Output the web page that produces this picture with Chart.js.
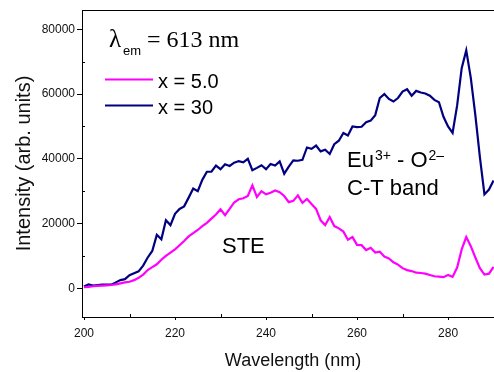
<!DOCTYPE html>
<html>
<head>
<meta charset="utf-8">
<script src="https://cdn.jsdelivr.net/npm/chart.js@4/dist/chart.umd.min.js"></script>
<style>
  html, body { margin: 0; padding: 0; background: #fff; }
  #wrap { width: 494px; height: 372px; }
</style>
</head>
<body>
<div id="wrap"><canvas id="chart" width="494" height="372"></canvas></div>
<script>
// dados (nm, contagens)
const wavelength = [
  200,201,202,203,204,205,206,207,208,209,210,211,212,213,214,215,216,217,218,219,
  220,221,222,223,224,225,226,227,228,229,230,231,232,233,234,235,236,237,238,239,
  240,241,242,243,244,245,246,247,248,249,250,251,252,253,254,255,256,257,258,259,
  260,261,262,263,264,265,266,267,268,269,270,271,272,273,274,275,276,277,278,279,
  280,281,282,283,284,285,286,287,288,289,290
];
const seriesX30 = [
  500,1200,800,1000,1100,1100,1100,1800,2500,2800,4000,4600,5200,7000,9500,11500,16500,15100,21000,19500,
  23000,24500,25300,28000,30800,30000,33500,36000,36000,37900,36800,38300,37800,38800,39300,38900,40000,36500,37200,38000,
  36800,38400,37900,39200,35400,37600,39500,39400,39700,43500,43100,44100,42300,42800,41500,44500,45600,48000,47200,50000,
  49800,49900,51300,51800,53500,58800,60000,58500,57700,58800,60800,61500,59500,61000,60500,60200,59500,58200,57500,53000,
  50000,48000,56500,68000,73500,65000,53500,40500,29000,30500,33300
];
const seriesX5 = [
  300,400,600,700,800,900,1000,1200,1500,1800,2000,2500,3200,4200,5600,6500,7400,8800,10000,11000,
  12000,13300,14600,16000,17000,18000,19200,20200,21500,22800,24400,22600,24500,26500,27500,27800,28500,31800,28200,30000,
  29000,29500,30200,29700,28500,26600,27000,28700,26400,27600,26000,24500,21000,19500,22000,19200,18500,17500,15000,15800,
  13400,13300,11800,12500,11000,11300,9800,9200,8000,7300,6200,5600,5300,4800,4700,4500,4100,3700,3600,3400,
  4100,3500,6400,12000,15800,13000,9500,6200,4200,4500,6600
];
const seriesLabels = ['x = 5.0', 'x = 30'];
const xTicks = [200, 220, 240, 260, 280];
const xMinorTicks = [210, 230, 250, 270, 290];
const yTicks = [0, 20000, 40000, 60000, 80000];
const yMinorTicks = [10000, 30000, 50000, 70000];

const SANS = '"Liberation Sans", Arial, sans-serif';
const SERIF = '"Liberation Serif", "Times New Roman", serif';

function toPoints(ys) {
  return wavelength.map((w, i) => ({ x: w, y: ys[i] }));
}

// moldura de cima, ticks menores, título do eixo x e anotações
const decorPlugin = {
  id: 'decor',
  afterDraw(chart) {
    const ctx = chart.ctx;
    const area = chart.chartArea;
    const xs = chart.scales.x;
    const ys = chart.scales.y;
    ctx.save();
    ctx.strokeStyle = '#000';
    ctx.lineWidth = 1;
    ctx.beginPath();
    ctx.moveTo(area.left, area.top + 0.5);
    ctx.lineTo(area.right, area.top + 0.5);
    xMinorTicks.forEach(v => {
      const px = Math.round(xs.getPixelForValue(v)) + 0.5;
      ctx.moveTo(px, area.bottom);
      ctx.lineTo(px, area.bottom - 3);
    });
    yMinorTicks.forEach(v => {
      const py = Math.round(ys.getPixelForValue(v)) + 0.5;
      ctx.moveTo(area.left, py);
      ctx.lineTo(area.left + 3, py);
    });
    ctx.stroke();

    ctx.fillStyle = '#111';
    ctx.textAlign = 'center';
    ctx.textBaseline = 'alphabetic';
    ctx.font = '18px ' + SANS;
    ctx.fillText('Wavelength (nm)', 293, 366);

    // legenda
    const ds = chart.data.datasets;
    ctx.textAlign = 'left';
    ctx.lineWidth = 2;
    [[79.5, 88], [105.5, 114]].forEach((pos, i) => {
      ctx.strokeStyle = ds[i].borderColor;
      ctx.beginPath();
      ctx.moveTo(105, pos[0]);
      ctx.lineTo(153, pos[0]);
      ctx.stroke();
      ctx.fillStyle = '#000';
      ctx.font = '20px ' + SANS;
      ctx.fillText(ds[i].label, 158, pos[1]);
    });

    // lambda_em = 613 nm
    ctx.font = '25px ' + SERIF;
    ctx.fillText('\u03BB', 109, 47);
    ctx.font = '13px ' + SANS;
    ctx.fillText('em', 123, 55);
    ctx.font = '24px ' + SERIF;
    ctx.fillText('= 613 nm', 147, 47);

    // Eu3+ - O2-  C-T band
    ctx.font = '22px ' + SANS;
    let x = 347;
    ctx.fillText('Eu', x, 167);
    x += ctx.measureText('Eu').width + 1;
    ctx.font = '14px ' + SANS;
    ctx.fillText('3+', x, 160);
    x += ctx.measureText('3+').width;
    ctx.font = '22px ' + SANS;
    ctx.fillText(' - O', x, 167);
    x += ctx.measureText(' - O').width + 1;
    ctx.font = '14px ' + SANS;
    ctx.fillText('2\u2013', x, 160);
    ctx.font = '22px ' + SANS;
    ctx.fillText('C-T band', 347, 195);
    ctx.fillText('STE', 222, 253);
    ctx.restore();
  }
};

new Chart(document.getElementById('chart'), {
  type: 'line',
  data: {
    datasets: [
      { label: seriesLabels[0], data: toPoints(seriesX5), borderColor: '#ff00ff', borderWidth: 2.2, pointRadius: 0, tension: 0 },
      { label: seriesLabels[1], data: toPoints(seriesX30), borderColor: '#000080', borderWidth: 2.2, pointRadius: 0, tension: 0 }
    ]
  },
  options: {
    responsive: false,
    animation: false,
    events: [],
    layout: { padding: { top: 10, right: 0, left: 0, bottom: 0 } },
    plugins: { legend: { display: false }, tooltip: { enabled: false } },
    scales: {
      x: {
        type: 'linear',
        min: 199.56,
        max: 290.1,
        afterBuildTicks: s => { s.ticks = xTicks.map(v => ({ value: v })); },
        afterFit: s => { s.height = 55; },
        grid: { drawOnChartArea: false, tickLength: 3, color: '#000' },
        border: { color: '#000', width: 1 },
        ticks: { color: '#111', font: { family: SANS, size: 12 }, padding: 6, maxRotation: 0, callback: v => String(v) },
        title: { display: false }
      },
      y: {
        min: -8900,
        max: 86000,
        afterBuildTicks: s => { s.ticks = yTicks.map(v => ({ value: v })); },
        afterFit: s => { s.width = 82; },
        grid: { drawOnChartArea: false, tickLength: 5, color: '#000' },
        border: { color: '#000', width: 1 },
        ticks: { color: '#111', font: { family: SANS, size: 12 }, padding: 2, callback: v => String(v) },
        title: { display: true, text: 'Intensity (arb. units)', color: '#111', font: { family: SANS, size: 20 }, padding: { top: 12, bottom: 0 } }
      }
    }
  },
  plugins: [decorPlugin]
});
</script>
</body>
</html>
